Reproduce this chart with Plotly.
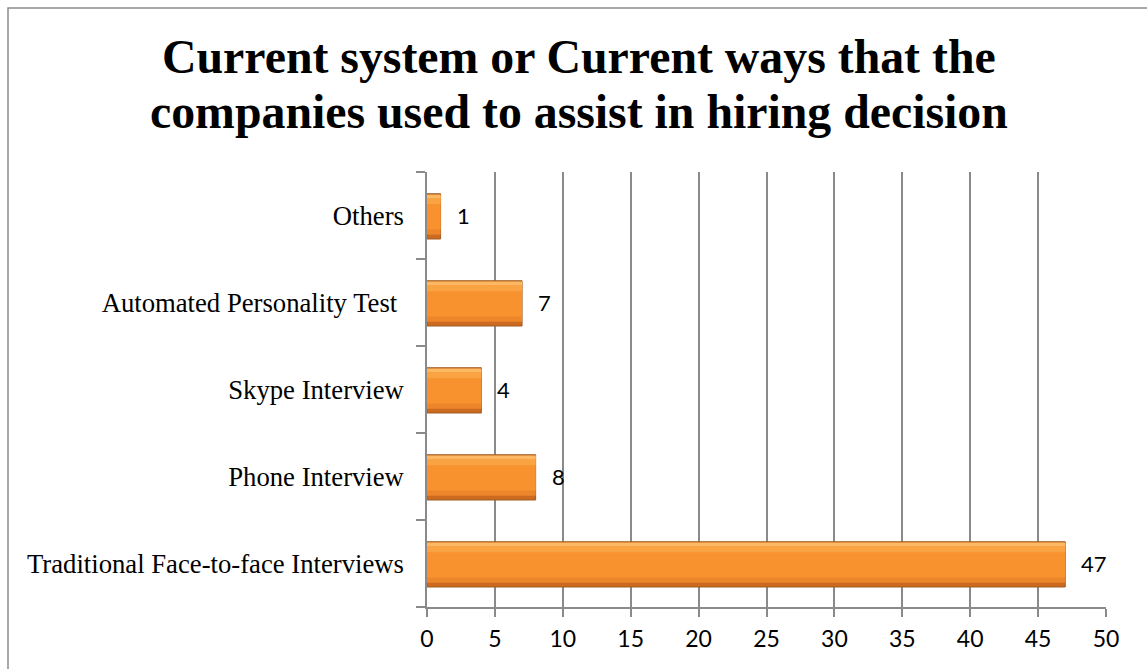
import plotly.graph_objects as go

# Survey responses: how companies currently support hiring decisions
categories = [
    "Traditional Face-to-face Interviews",
    "Phone Interview",
    "Skype Interview",
    "Automated Personality Test ",
    "Others",
]
counts = [47, 8, 4, 7, 1]
x_ticks = [0, 5, 10, 15, 20, 25, 30, 35, 40, 45, 50]

title_lines = [
    "Current system or Current ways that the",
    "companies used to assist in hiring decision",
]

W, H = 1147, 669
L, R, T, B = 427, 41, 172, 62
plot_w, plot_h = W - L - R, H - T - B

GRID = "#8a8a8a"
SERIF = "Liberation Serif, Times New Roman, serif"
SANS = "Lato, Carlito, Calibri, sans-serif"

fig = go.Figure()

# Bevelled orange bars built from stacked bands: dark rim, bright body, soft top light
bands = [
    (0.52, -0.27, "#CC6B1F", dict(color="#A05B22", width=1)),
    (0.45, -0.22, "#EC862B", dict(width=0)),
    (0.37, -0.16, "#F7922F", dict(width=0)),
    (0.10, 0.13, "#F9A343", dict(width=0)),
    (0.04, 0.20, "#FCB862", dict(width=0)),
]
for width, offset, color, line in bands:
    fig.add_trace(go.Bar(
        y=categories, x=counts, orientation="h",
        width=width, offset=offset,
        marker=dict(color=color, line=line),
        hoverinfo="skip", showlegend=False,
    ))

# Value labels just right of each bar
for c, v in zip(categories, counts):
    fig.add_annotation(
        x=v, y=c, xref="x", yref="y", text=str(v),
        showarrow=False, xanchor="left", yanchor="middle",
        xshift=14, yshift=0,
        font=dict(family=SANS, size=22, color="#000000"),
    )

# Two-line bold title
title_center = (579 - L) / plot_w
for i, line in enumerate(title_lines):
    base_px = [74, 129][i]
    fig.add_annotation(
        x=title_center, y=(H - B - base_px) / plot_h,
        xref="paper", yref="paper", text=f"<b>{line}</b>",
        showarrow=False, xanchor="center", yanchor="bottom", yshift=-11,
        font=dict(family=SERIF, size=47.8, color="#000000"),
    )

# Outer chart frame
fig.add_shape(
    type="rect", xref="paper", yref="paper",
    x0=(8 - L) / plot_w, x1=(W + 20 - L) / plot_w,
    y0=-(B + 20) / plot_h, y1=(H - B - 8) / plot_h,
    line=dict(color="#8c8c8c", width=1.5), fillcolor="rgba(0,0,0,0)",
    layer="below",
)

fig.update_layout(
    width=W, height=H,
    margin=dict(l=L, r=R, t=T, b=B, pad=0),
    paper_bgcolor="white", plot_bgcolor="white",
    barmode="overlay",
    bargap=0.48,
    showlegend=False,
)
fig.update_xaxes(
    range=[0, 50], tickvals=x_ticks, ticktext=[str(t) for t in x_ticks],
    showgrid=True, gridcolor=GRID, gridwidth=1.5,
    showline=True, linecolor=GRID, linewidth=1.5,
    ticks="outside", ticklen=8, tickcolor=GRID, tickwidth=1.5,
    zeroline=False,
    tickfont=dict(family=SANS, size=23, color="#000000"),
    ticklabelstandoff=3,
)
fig.update_yaxes(
    categoryorder="array", categoryarray=categories,
    range=[-0.5, 4.5],
    showgrid=False,
    showline=True, linecolor=GRID, linewidth=1.5,
    ticks="outside", ticklen=9, tickcolor=GRID, tickwidth=1.5,
    tickson="boundaries",
    tickfont=dict(family=SERIF, size=26.7, color="#000000"),
    ticklabelstandoff=16,
)

fig.write_html("out.html")
